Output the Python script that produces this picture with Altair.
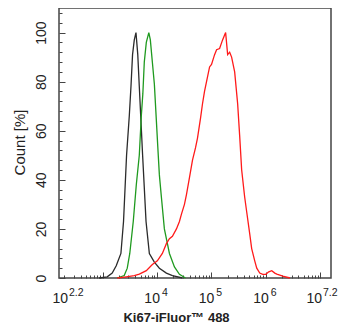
import altair as alt
import pandas as pd

# x values are log10(intensity), y values are Count [%]
black_log = [2.938, 3.086, 3.178, 3.252, 3.338, 3.386, 3.442, 3.492, 3.523, 3.552, 3.584,
             3.615, 3.648, 3.676, 3.737, 3.800, 3.861, 3.953, 4.045, 4.174, 4.285, 4.469]
black_pct = [0, 0.5, 2, 5, 10, 23, 50, 66, 78, 91, 97,
             100, 91, 78, 50, 23, 10, 6.5, 4, 2, 1, 0]

green_log = [3.270, 3.399, 3.455, 3.501, 3.565, 3.621, 3.676, 3.713, 3.741, 3.768, 3.805,
             3.851, 3.879, 3.916, 3.953, 3.990, 4.017, 4.045, 4.082, 4.137, 4.230, 4.322,
             4.414, 4.525]
green_pct = [0, 1, 4, 10, 23, 38, 50, 66, 75, 88, 96,
             100, 97, 88, 79, 64, 53, 42, 33, 20, 10, 4.5,
             1.5, 0]

red_log = [3.270, 3.436, 3.584, 3.676, 3.805, 3.916, 4.008, 4.100, 4.174, 4.230, 4.285,
           4.359, 4.414, 4.451, 4.506, 4.543, 4.599, 4.654, 4.709, 4.746, 4.801, 4.838,
           4.875, 4.912, 4.968, 5.004, 5.060, 5.097, 5.152, 5.207, 5.263, 5.300, 5.337,
           5.373, 5.429, 5.484, 5.521, 5.558, 5.613, 5.650, 5.706, 5.742, 5.798, 5.835,
           5.890, 5.945, 6.001, 6.056, 6.111, 6.167, 6.204, 6.314, 6.444]
red_pct = [0, 0.5, 1, 1.6, 3, 5.5, 7, 10, 14, 16, 17,
           20, 23, 26, 30, 34, 41, 48, 53, 57, 65, 71,
           76, 80, 86, 87, 91, 93, 93.5, 97, 100, 91, 92,
           90, 84, 71, 58, 44, 33, 27, 18, 12, 7, 4,
           2, 1.5, 1.5, 2.5, 3, 2, 1.6, 0.8, 0]

series_names = ["black", "green", "red"]
series_colors = ["#2b2b2b", "#1f9a1f", "#ff1a1a"]

x_domain_exp = [2.2, 7.2]
y_domain = [0, 110]

x_major = [1e3, 1e4, 1e5, 1e6, 1e7]
x_minor = [m * 10 ** n for n in range(2, 7) for m in range(2, 10)
           if 10 ** 2.2 < m * 10 ** n < 10 ** 7.2]
y_major = [0, 20, 40, 60, 80, 100]
y_minor = [4, 8, 12, 16, 24, 28, 32, 36, 44, 48, 52, 56, 64, 68, 72, 76,
           84, 88, 92, 96, 104, 108]

label_exp = ["2.2", "4", "5", "6", "7.2"]
label_base = ["10", "10", "10", "10", "10"]

rows = []
for name, xs, ys in [("black", black_log, black_pct),
                     ("green", green_log, green_pct),
                     ("red", red_log, red_pct)]:
    for e, p in zip(xs, ys):
        rows.append({"series": name, "log": e, "pct": p, "v": 10 ** e})
df = pd.DataFrame(rows)

lab = pd.DataFrame({"v": [10 ** float(e) for e in label_exp],
                    "base": label_base, "exp": label_exp})

W, H = 272, 270
FONT = "Liberation Sans"
TXT = "#222222"
AX = "#444444"

xscale = alt.Scale(type="log", domain=[10 ** x_domain_exp[0], 10 ** x_domain_exp[1]], nice=False)
yscale = alt.Scale(domain=y_domain, nice=False, zero=False)

lines = alt.Chart(df).mark_line(strokeWidth=1.3).encode(
    x=alt.X("v:Q", scale=xscale,
            axis=alt.Axis(orient="bottom", values=x_major, tickSize=6, offset=-6,
                          domain=False, labels=False, grid=False, tickColor=AX,
                          title="Ki67-iFluor™ 488", titleFont=FONT, titleFontSize=13,
                          titleFontWeight="bold", titleColor=TXT, titleX=117, titleY=49,
                          titleAlign="center", titleBaseline="alphabetic")),
    y=alt.Y("pct:Q", scale=yscale,
            axis=alt.Axis(orient="left", values=y_major, tickSize=6, offset=-6,
                          domain=False, grid=False, tickColor=AX,
                          labelAngle=270, labelAlign="center", labelBaseline="alphabetic",
                          labelPadding=14, labelFont=FONT, labelFontSize=14, labelColor=TXT,
                          title="Count [%]", titleFont=FONT, titleFontSize=15,
                          titleFontWeight="normal", titleColor=TXT, titleAngle=270,
                          titleX=-41, titleY=134, titleAlign="center",
                          titleBaseline="alphabetic")),
    color=alt.Color("series:N", scale=alt.Scale(domain=series_names, range=series_colors),
                    legend=None),
    order=alt.Order("log:Q"),
)

minor_x_layer = alt.Chart(pd.DataFrame({"v": x_minor})).mark_point(opacity=0).encode(
    x=alt.X("v:Q", scale=xscale,
            axis=alt.Axis(orient="bottom", values=x_minor, tickSize=3, offset=-3,
                          domain=False, labels=False, grid=False, tickColor=AX, title=None)),
)

minor_y_layer = alt.Chart(pd.DataFrame({"p": y_minor})).mark_point(opacity=0).encode(
    y=alt.Y("p:Q", scale=yscale,
            axis=alt.Axis(orient="left", values=y_minor, tickSize=3, offset=-3,
                          domain=False, labels=False, grid=False, tickColor=AX, title=None)),
)


def label_layers(data, base_dx, exp_dx):
    base = alt.Chart(data).mark_text(align="right", baseline="alphabetic", font=FONT,
                                      fontSize=14, color=TXT, dx=base_dx).encode(
        x=alt.X("v:Q", scale=xscale, axis=None), y=alt.value(H + 25), text="base:N")
    exp = alt.Chart(data).mark_text(align="left", baseline="alphabetic", font=FONT,
                                     fontSize=10.5, color=TXT, dx=exp_dx).encode(
        x=alt.X("v:Q", scale=xscale, axis=None), y=alt.value(H + 18), text="exp:N")
    return [base, exp]


labels = (label_layers(lab.iloc[[0]], 9, 10)
          + label_layers(lab.iloc[1:4], 3, 5)
          + label_layers(lab.iloc[[4]], -9, -8))

chart = alt.layer(lines, minor_x_layer, minor_y_layer, *labels).resolve_axis(
    x="independent", y="independent"
).properties(
    width=W, height=H,
    autosize=alt.AutoSizeParams(type="none"),
    padding={"left": 51, "top": 0, "right": 8, "bottom": 46},
).configure_view(stroke=AX, strokeWidth=1.5)

chart.save("out.html", embed_options={"renderer": "svg", "actions": False})
